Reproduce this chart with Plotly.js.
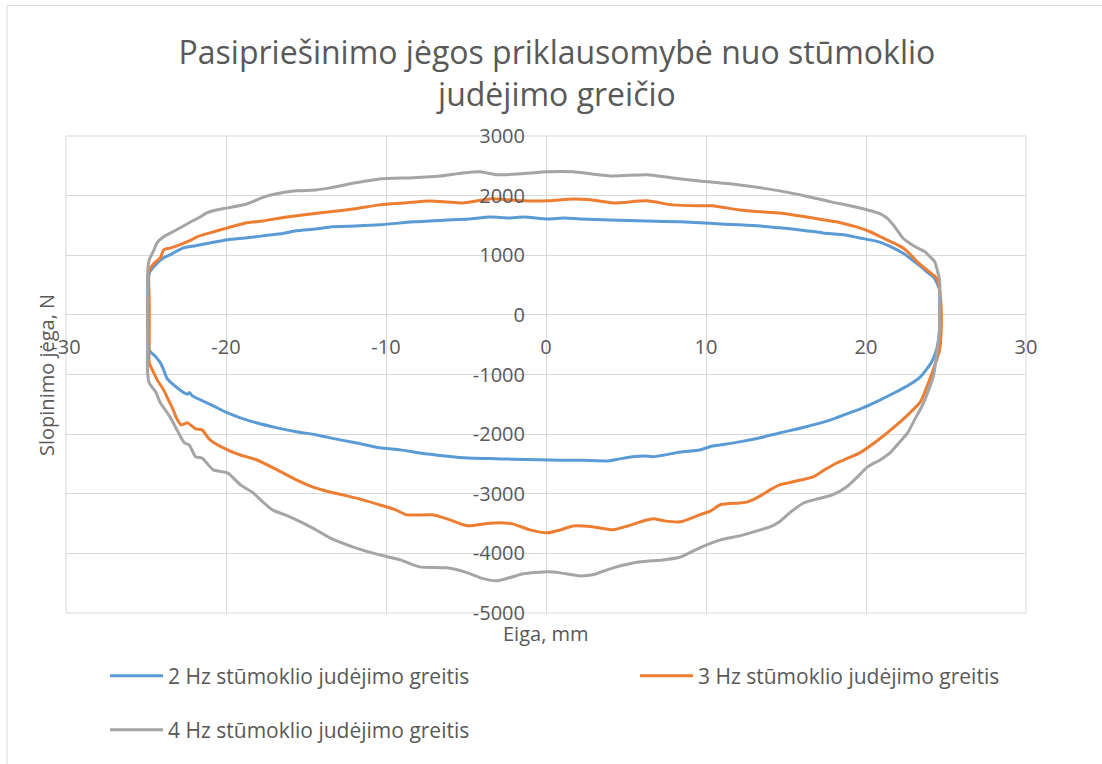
<!DOCTYPE html>
<html>
<head>
<meta charset="utf-8">
<script src="https://cdn.plot.ly/plotly-3.0.1.min.js"></script>
<style>
  html, body { margin: 0; padding: 0; background: #ffffff; }
  #chart { width: 1102px; height: 764px; }
</style>
</head>
<body>
<div id="chart"></div>
<script>
// ---- Data (Eiga, mm  vs  Slopinimo jėga, N) ----
const seriesNames = [
  "2 Hz stūmoklio judėjimo greitis",
  "3 Hz stūmoklio judėjimo greitis",
  "4 Hz stūmoklio judėjimo greitis"
];
const seriesColors = ["#5B9BD5", "#ED7D31", "#A5A5A5"];

const x2Hz = [-24.9,-24.8,-24.4,-23.9,-23.4,-22.7,-21.9,-21.0,-19.9,-18.8,-17.7,-16.6,-15.6,-14.4,-13.5,-11.9,-10.4,-8.3,-6.2,-4.8,-3.5,-2.3,-1.4,0.1,1.2,2.1,4.0,6.3,8.4,9.6,10.9,12.1,13.4,14.6,15.9,17.3,18.7,19.6,20.8,21.7,22.4,22.9,23.4,23.8,24.2,24.4,24.6,24.6,24.6,
  24.4,24.1,23.4,22.6,21.9,20.9,19.8,18.8,17.8,16.2,14.6,13.4,12.1,10.9,10.4,9.6,8.4,7.4,6.7,6.1,5.4,4.6,3.8,2.4,0.9,-0.4,-2.1,-3.5,-4.9,-6.3,-7.9,-9.1,-10.4,-11.9,-13.5,-14.4,-15.6,-16.8,-18.1,-19.1,-19.9,-20.8,-21.6,-22.1,-22.3,-22.4,-22.6,-23.2,-23.7,-23.9,-24.1,-24.4,-24.8,-24.9,-24.9,-24.9];
const y2Hz = [420,700,840,960,1020,1120,1160,1207,1260,1290,1325,1360,1410,1440,1475,1490,1510,1560,1590,1610,1640,1625,1640,1610,1625,1610,1593,1575,1560,1545,1525,1510,1490,1460,1425,1375,1340,1290,1225,1125,1020,920,820,720,640,555,420,85,-250,
  -590,-790,-1040,-1190,-1290,-1425,-1560,-1660,-1760,-1880,-1980,-2060,-2130,-2180,-2200,-2265,-2300,-2350,-2380,-2365,-2380,-2415,-2450,-2440,-2440,-2430,-2420,-2410,-2400,-2365,-2315,-2264,-2230,-2145,-2063,-2010,-1960,-1895,-1810,-1727,-1645,-1526,-1425,-1358,-1300,-1330,-1310,-1191,-1060,-920,-805,-700,-590,-250,250,420];

const x3Hz = [-24.8,-24.8,-24.4,-24.1,-23.9,-23.5,-22.9,-22.3,-21.8,-21.0,-19.9,-18.7,-17.7,-16.6,-15.1,-13.5,-11.9,-10.4,-8.7,-7.3,-6.2,-5.2,-3.5,-2.3,-1.4,0.1,1.7,2.8,4.2,6.3,7.9,9.6,10.4,12.1,13.4,14.6,15.9,17.3,18.4,19.4,20.3,20.9,21.7,22.3,22.8,23.2,23.8,24.2,24.4,24.6,24.7,24.7,
  24.6,24.2,23.8,23.4,22.6,21.7,20.7,19.6,18.9,18.2,17.4,16.7,15.9,15.1,14.6,14.0,13.4,12.6,12.1,10.9,10.3,9.6,8.4,7.4,6.7,5.9,5.1,4.2,2.9,1.7,0.9,0.1,-1.0,-2.1,-2.9,-3.8,-4.9,-6.0,-7.1,-8.7,-9.4,-10.4,-11.9,-13.5,-14.6,-15.6,-16.8,-18.1,-19.1,-19.9,-21.0,-21.5,-21.9,-22.4,-22.8,-23.1,-23.3,-23.6,-23.9,-24.3,-24.6,-24.8,-24.8,-24.8];
const y3Hz = [250,750,890,960,1090,1120,1175,1240,1310,1375,1460,1545,1575,1625,1680,1730,1780,1845,1880,1910,1895,1878,1945,1930,1912,1912,1945,1930,1878,1912,1845,1830,1830,1760,1730,1710,1660,1595,1545,1475,1390,1310,1210,1125,1005,890,755,670,620,420,85,-250,
  -590,-920,-1210,-1460,-1680,-1895,-2110,-2315,-2400,-2480,-2600,-2715,-2770,-2820,-2850,-2935,-3035,-3136,-3155,-3185,-3287,-3354,-3470,-3455,-3420,-3471,-3540,-3605,-3555,-3540,-3606,-3655,-3606,-3505,-3488,-3505,-3538,-3438,-3354,-3354,-3270,-3186,-3070,-2970,-2884,-2767,-2600,-2430,-2350,-2265,-2095,-1929,-1912,-1811,-1845,-1727,-1593,-1425,-1258,-1090,-922,-805,-420,250];

const x4Hz = [-24.9,-24.9,-24.8,-24.5,-24.3,-23.9,-23.2,-22.3,-21.6,-21.2,-20.6,-19.9,-18.7,-17.6,-16.6,-15.6,-14.4,-13.5,-11.9,-10.4,-8.3,-6.6,-5.2,-4.1,-3.1,-1.6,0.1,1.7,2.8,4.2,6.3,7.8,9.6,12.1,14.6,16.2,17.8,19.0,20.1,20.9,21.3,21.8,22.3,22.8,23.2,23.7,24.0,24.3,24.4,24.6,24.6,24.6,
  24.4,24.2,23.6,23.1,22.6,22.0,21.5,20.9,20.1,19.4,18.8,17.9,17.0,16.1,15.3,14.6,14.0,13.4,12.1,10.9,9.6,8.4,7.3,5.9,4.2,2.9,2.1,0.9,0.1,-1.4,-2.3,-3.1,-4.1,-4.9,-6.2,-7.9,-9.1,-10.4,-11.9,-13.5,-14.6,-15.6,-16.3,-17.1,-17.7,-18.3,-19.1,-19.9,-20.8,-21.5,-21.9,-22.3,-22.6,-23.0,-23.5,-24.1,-24.4,-24.8,-24.9,-24.9,-24.9];
const y4Hz = [250,700,920,1090,1210,1310,1410,1545,1645,1710,1760,1795,1860,1980,2045,2080,2095,2130,2215,2280,2300,2330,2380,2400,2350,2365,2400,2400,2365,2330,2350,2300,2245,2180,2080,1995,1895,1830,1760,1695,1625,1475,1290,1190,1125,1055,975,890,805,585,85,-250,
  -705,-1040,-1475,-1727,-1980,-2165,-2315,-2430,-2550,-2735,-2884,-3020,-3085,-3155,-3305,-3470,-3555,-3605,-3706,-3773,-3907,-4060,-4110,-4142,-4243,-4360,-4377,-4327,-4310,-4343,-4410,-4460,-4410,-4327,-4243,-4226,-4109,-4025,-3907,-3740,-3572,-3438,-3354,-3270,-3136,-2985,-2851,-2650,-2600,-2400,-2381,-2180,-2147,-1962,-1711,-1476,-1291,-1140,-973,-420,250];

const xTickVals = [-30,-20,-10,0,10,20,30];
const xTickText = ["-30","-20","-10","0","10","20","30"];
const yTickVals = [-5000,-4000,-3000,-2000,-1000,0,1000,2000,3000];
const yTickText = ["-5000","-4000","-3000","-2000","-1000","0","1000","2000","3000"];

const chartTitle = "Pasipriešinimo jėgos priklausomybė nuo stūmoklio<br>judėjimo greičio";
const xTitle = "Eiga, mm";
const yTitle = "Slopinimo jėga, N";

// ---- Build traces ----
const xs = [x2Hz, x3Hz, x4Hz];
const ys = [y2Hz, y3Hz, y4Hz];
const legendIds = ["legend", "legend2", "legend3"];
const traces = seriesNames.map((name, i) => ({
  type: "scatter",
  mode: "lines",
  name: name,
  x: xs[i],
  y: ys[i],
  line: { color: seriesColors[i], width: 3, shape: "spline", smoothing: 0.6 },
  legend: legendIds[i],
  hoverinfo: "skip"
}));

const FONT = "'Open Sans', 'Noto Sans', sans-serif";
const TXT = "#595959";
const GRID = "#D9D9D9";

const legendBase = {
  orientation: "v",
  xref: "container", yref: "container",
  xanchor: "left", yanchor: "middle",
  bgcolor: "rgba(0,0,0,0)",
  borderwidth: 0,
  itemwidth: 53,
  font: { family: FONT, size: 21, color: TXT }
};

const layout = {
  width: 1102,
  height: 764,
  margin: { l: 66, r: 76, t: 136, b: 151, pad: 0, autoexpand: false },
  paper_bgcolor: "#ffffff",
  plot_bgcolor: "#ffffff",
  font: { family: FONT, color: TXT },
  showlegend: true,
  title: {
    text: chartTitle,
    font: { family: FONT, size: 32, color: TXT },
    xref: "container", yref: "container",
    x: 0.5054, y: 0.916,
    xanchor: "center", yanchor: "middle"
  },
  xaxis: {
    range: [-30, 30],
    tickvals: xTickVals,
    ticktext: xTickText,
    ticks: "",
    showgrid: true, gridcolor: GRID, gridwidth: 1,
    zeroline: true, zerolinecolor: GRID, zerolinewidth: 1,
    showline: false,
    anchor: "free", position: 0.625,
    ticklabelstandoff: 18,
    tickangle: 0,
    automargin: false,
    tickfont: { family: FONT, size: 20, color: TXT },
    fixedrange: true
  },
  yaxis: {
    range: [-5000, 3000],
    tickvals: yTickVals,
    ticktext: yTickText,
    ticks: "",
    showgrid: true, gridcolor: GRID, gridwidth: 1,
    zeroline: true, zerolinecolor: GRID, zerolinewidth: 1,
    showline: false,
    anchor: "free", position: 0.5,
    ticklabelstandoff: 21,
    automargin: false,
    tickfont: { family: FONT, size: 20, color: TXT },
    fixedrange: true
  },
  legend:  Object.assign({}, legendBase, { x: 0.0953, y: 0.1152 }),
  legend2: Object.assign({}, legendBase, { x: 0.5762, y: 0.1152 }),
  legend3: Object.assign({}, legendBase, { x: 0.0953, y: 0.0445 }),
  annotations: [
    {
      text: xTitle, xref: "paper", yref: "paper",
      x: 0.5, y: -0.044, xanchor: "center", yanchor: "middle",
      showarrow: false, font: { family: FONT, size: 20, color: TXT }
    },
    {
      text: yTitle, xref: "paper", yref: "paper",
      x: -0.0198, y: 0.499, xanchor: "center", yanchor: "middle",
      textangle: -90,
      showarrow: false, font: { family: FONT, size: 20, color: TXT }
    }
  ],
  shapes: [
    {
      type: "rect", xref: "paper", yref: "paper",
      x0: -0.0615, x1: 1.2, y0: -0.5, y1: 1.2737,
      line: { color: GRID, width: 1 }, fillcolor: "rgba(0,0,0,0)",
      layer: "below"
    },
    {
      type: "rect", xref: "paper", yref: "paper",
      x0: 0, x1: 1, y0: 0, y1: 1,
      line: { color: GRID, width: 1 }, fillcolor: "rgba(0,0,0,0)",
      layer: "below"
    }
  ]
};

Plotly.newPlot("chart", traces, layout, { displayModeBar: false, staticPlot: true });
</script>
</body>
</html>
